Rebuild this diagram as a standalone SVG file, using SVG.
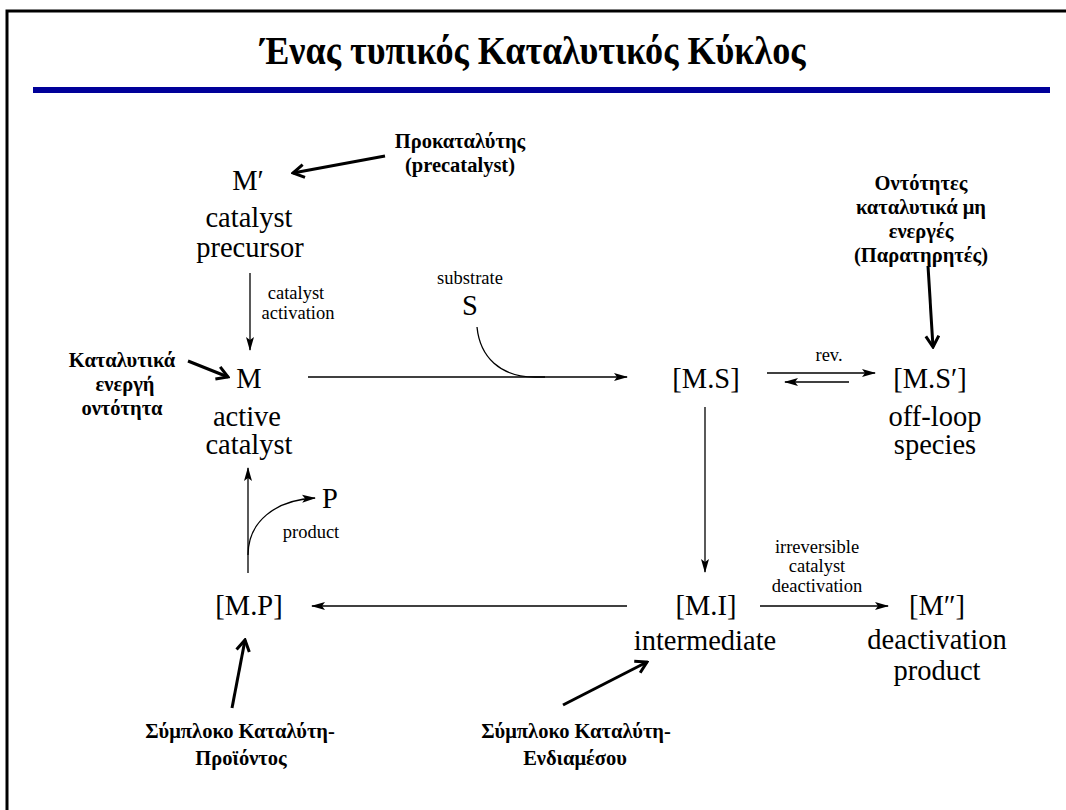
<svg xmlns="http://www.w3.org/2000/svg" width="1066" height="810" viewBox="0 0 1066 810">
<style>
text{font-family:"Liberation Serif","Times New Roman","DejaVu Serif",serif;fill:#000;text-anchor:middle}
.big{font-size:28.5px}
.sm{font-size:18.5px}
.ann{font-size:20.5px;font-weight:bold}
.title{font-size:39px;font-weight:bold}
.ln{stroke:#000;stroke-width:1.3;fill:none}
.thick{stroke:#000;stroke-width:3;fill:none}
</style>
<defs>
<marker id="ah" viewBox="0 0 14 10" refX="13" refY="5" markerWidth="14" markerHeight="10" markerUnits="userSpaceOnUse" orient="auto">
<path d="M0,1 L14,5 L0,9 L3,5 Z" fill="#000"/>
</marker>
<marker id="oh" viewBox="0 0 16 16" refX="14" refY="8" markerWidth="16" markerHeight="16" markerUnits="userSpaceOnUse" orient="auto">
<path d="M3,1.5 L14,8 L3,14.5" fill="none" stroke="#000" stroke-width="3" stroke-linejoin="miter"/>
</marker>
</defs>
<rect width="1066" height="810" fill="#fff"/>
<g id="frame">
<path d="M7,812 L7,11 L1068,11" fill="none" stroke="#000" stroke-width="3"/>
<rect x="33" y="87" width="1017" height="6" fill="#000099"/>
<text class="title" x="533" y="64" textLength="545" lengthAdjust="spacingAndGlyphs">Ένας τυπικός Καταλυτικός Κύκλος</text>
</g>
<g id="connectors">
<line class="ln" x1="250" y1="273" x2="250" y2="350" marker-end="url(#ah)"/>
<line class="ln" x1="308" y1="377" x2="627" y2="377" marker-end="url(#ah)"/>
<path class="ln" d="M477,327 C480,357 500,377 535,377 L545,377"/>
<line class="ln" x1="767" y1="373" x2="875" y2="373" marker-end="url(#ah)"/>
<line class="ln" x1="849" y1="382" x2="785" y2="382" marker-end="url(#ah)"/>
<line class="ln" x1="705" y1="407" x2="705" y2="572" marker-end="url(#ah)"/>
<line class="ln" x1="627" y1="606" x2="312" y2="606" marker-end="url(#ah)"/>
<line class="ln" x1="760" y1="606" x2="888" y2="606" marker-end="url(#ah)"/>
<line class="ln" x1="248" y1="573" x2="248" y2="468" marker-end="url(#ah)"/>
<path class="ln" d="M248,555 C248,522 275,500 315,498" marker-end="url(#ah)"/>
<line class="thick" x1="385" y1="156" x2="293" y2="173" marker-end="url(#oh)"/>
<line class="thick" x1="188" y1="361" x2="228" y2="377" marker-end="url(#oh)"/>
<line class="thick" x1="928" y1="266" x2="933" y2="347" marker-end="url(#oh)"/>
<line class="thick" x1="232" y1="708" x2="245" y2="640" marker-end="url(#oh)"/>
<line class="thick" x1="563" y1="705" x2="647" y2="662" marker-end="url(#oh)"/>
</g>
<g id="precursor">
<text class="big" x="248" y="190">M′</text>
<text class="big" x="249" y="227">catalyst</text>
<text class="big" x="250" y="257">precursor</text>
</g>
<g id="activation-label">
<text class="sm" x="296" y="299">catalyst</text>
<text class="sm" x="298" y="319">activation</text>
</g>
<g id="substrate">
<text class="sm" x="470" y="284">substrate</text>
<text class="big" x="470" y="315">S</text>
</g>
<g id="active">
<text class="big" x="249" y="388">M</text>
<text class="big" x="247" y="426">active</text>
<text class="big" x="249" y="454">catalyst</text>
</g>
<g id="MS">
<text class="big" x="706" y="388">[M.S]</text>
</g>
<g id="rev-label">
<text class="sm" x="829" y="361">rev.</text>
</g>
<g id="MSp">
<text class="big" x="930" y="388">[M.S′]</text>
<text class="big" x="935" y="426">off-loop</text>
<text class="big" x="935" y="454">species</text>
</g>
<g id="MP">
<text class="big" x="249" y="615">[M.P]</text>
</g>
<g id="product">
<text class="big" x="330" y="508">P</text>
<text class="sm" x="311" y="538">product</text>
</g>
<g id="MI">
<text class="big" x="706" y="615">[M.I]</text>
<text class="big" x="705" y="650">intermediate</text>
</g>
<g id="deact-label">
<text class="sm" x="817" y="553">irreversible</text>
<text class="sm" x="817" y="572">catalyst</text>
<text class="sm" x="817" y="592">deactivation</text>
</g>
<g id="Mpp">
<text class="big" x="937" y="615">[M″]</text>
<text class="big" x="937" y="649">deactivation</text>
<text class="big" x="937" y="680">product</text>
</g>
<g id="ann-precatalyst">
<text class="ann" x="460" y="148">Προκαταλύτης</text>
<text class="ann" x="460" y="172">(precatalyst)</text>
</g>
<g id="ann-active">
<text class="ann" x="122" y="367">Καταλυτικά</text>
<text class="ann" x="125" y="391">ενεργή</text>
<text class="ann" x="122" y="415">οντότητα</text>
</g>
<g id="ann-offloop">
<text class="ann" x="921" y="190">Οντότητες</text>
<text class="ann" x="921" y="214">καταλυτικά μη</text>
<text class="ann" x="921" y="238">ενεργές</text>
<text class="ann" x="921" y="262">(Παρατηρητές)</text>
</g>
<g id="ann-MP">
<text class="ann" x="240" y="738">Σύμπλοκο Καταλύτη-</text>
<text class="ann" x="241" y="765">Προϊόντος</text>
</g>
<g id="ann-MI">
<text class="ann" x="576" y="738">Σύμπλοκο Καταλύτη-</text>
<text class="ann" x="575" y="765">Ενδιαμέσου</text>
</g>
</svg>
